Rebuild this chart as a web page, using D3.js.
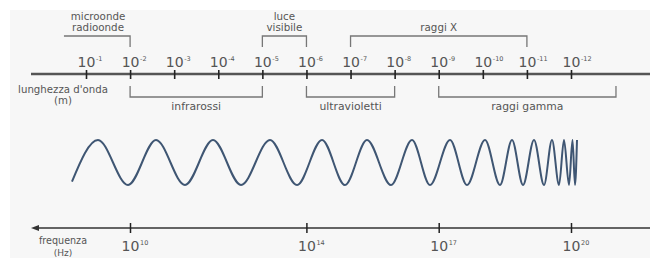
<!DOCTYPE html>
<html><head><meta charset="utf-8">
<script src="https://cdn.jsdelivr.net/npm/d3@7"></script>
<style>
html,body{margin:0;padding:0;background:#fff;}
svg{display:block;}
text{font-family:"DejaVu Sans",sans-serif;fill:#555;}
</style></head>
<body>
<svg id="chart" width="650" height="258"></svg>
<script>
// ---- data ----
// wavelength axis: exponent n of 10^-n
const wavelengthExps = [1,2,3,4,5,6,7,8,9,10,11,12];
const wavelengthTickLabels = ["-1","-2","-3","-4","-5","-6","-7","-8","-9","-10","-11","-12"];
// frequency axis: exponent n of 10^n
const frequencyExps = [10,14,17,20];
const frequencyTickLabels = ["10","14","17","20"];
// bands (in wavelength exponent units)
const bandNames = [["microonde","radioonde"],["luce","visibile"],["raggi X"],["infrarossi"],["ultravioletti"],["raggi gamma"]];
const bandFrom  = [0.5, 5, 7, 2, 6, 9];
const bandTo    = [2, 6, 11, 5, 8, 13.02];
const bandSide  = ["above","above","above","below","below","below"];
// wave extrema (position in wavelength exponent units, normalized amplitude)
const wavePos = [0.682,1.272,1.953,2.588,3.245,3.880,4.516,5.173,5.786,6.353,6.874,7.373,7.918,8.394,8.802,9.256,9.641,10.050,10.390,10.662,10.912,11.161,11.388,11.569,11.728,11.841,11.955,12.034,12.091,12.136];
const waveAmp = [-0.85,1,-1,1,-1,1,-1,1,-1,1,-1,1,-1,1,-1,1,-1,1,-1,1,-1,1,-1,1,-1,1,-1,1,-1,1];

// ---- layout ----
const W = 650, H = 258;
const svg = d3.select("#chart");
svg.append("rect").attr("x",10).attr("y",10).attr("width",W-10).attr("height",H-10).attr("fill","#f7f7f7");

const xL = d3.scaleLinear().domain([1,12]).range([86,571]);
const xF = d3.scaleLinear().domain([10,20]).range([130,571]);
const yW = d3.scaleLinear().domain([-1,1]).range([185,140]);

const axisLY = 74, axisFY = 228;

// wavelength axis
svg.append("line").attr("x1",31).attr("x2",W).attr("y1",axisLY).attr("y2",axisLY)
  .attr("stroke","#555").attr("stroke-width",2.4);
const gL = svg.append("g").attr("transform",`translate(0,${axisLY})`)
  .call(d3.axisBottom(xL).tickValues(wavelengthExps).tickSize(0).tickFormat(() => "10"));
gL.select(".domain").remove();
gL.attr("font-size",null).attr("font-family",null);
gL.selectAll(".tick line").attr("y1",-4).attr("y2",5).attr("stroke","#222").attr("stroke-width",1.6);
gL.selectAll(".tick text").each(function(d,i){
  const t = d3.select(this);
  t.attr("y",-7).attr("dy",null).attr("fill","#505050").attr("text-anchor","middle")
   .style("font-size","14px").style("font-family","DejaVu Sans");
  d3.select(this.parentNode).append("text")
    .attr("x",9.5).attr("y",-13).attr("fill","#505050").attr("text-anchor","start")
    .style("font-size","6.5px").style("font-family","DejaVu Sans").text(wavelengthTickLabels[i]);
});

// axis titles
svg.append("text").attr("x",63).attr("y",93).attr("text-anchor","middle").attr("font-size",10.2).text("lunghezza d'onda");
svg.append("text").attr("x",63).attr("y",104).attr("text-anchor","middle").attr("font-size",10.2).text("(m)");

// bands
bandNames.forEach((lines,i) => {
  const x0 = xL(bandFrom[i]), x1 = xL(bandTo[i]);
  const above = bandSide[i] === "above";
  let path;
  if (above) {
    const yTop = 36, yBot = 47;
    if (i === 0) path = `M${x0},${yTop}H${x1}V${yBot}`;
    else path = `M${x0},${yBot}V${yTop}H${x1}V${yBot}`;
  } else {
    const yTop = 86, yBot = 97;
    path = `M${x0},${yTop}V${yBot}H${x1}V${yTop}`;
  }
  svg.append("path").attr("d",path).attr("fill","none").attr("stroke","#777").attr("stroke-width",1.3);
  const cx = (x0+x1)/2 + (i===0 ? 1 : 0);
  if (above) {
    const base = 31;
    lines.forEach((s,k) => {
      svg.append("text").attr("x",cx).attr("y",base - (lines.length-1-k)*11.5)
        .attr("text-anchor","middle").attr("font-size",10.3).text(s);
    });
  } else {
    svg.append("text").attr("x",cx).attr("y",110).attr("text-anchor","middle").attr("font-size",10.8).text(lines[0]);
  }
});

// wave
const line = d3.line().x((d,i) => xL(wavePos[i])).y((d,i) => yW(waveAmp[i])).curve(d3.curveMonotoneX);
svg.append("path").datum(wavePos).attr("d",line).attr("fill","none")
  .attr("stroke","#3f5673").attr("stroke-width",2).attr("stroke-linejoin","round");

// frequency axis
svg.append("line").attr("x1",36).attr("x2",W).attr("y1",axisFY).attr("y2",axisFY)
  .attr("stroke","#333").attr("stroke-width",1.5);
svg.append("path").attr("d",`M31,${axisFY}L39,${axisFY-3}L39,${axisFY+3}Z`).attr("fill","#333");
const gF = svg.append("g").attr("transform",`translate(0,${axisFY})`)
  .call(d3.axisBottom(xF).tickValues(frequencyExps).tickSize(0).tickFormat(() => "10"));
gF.select(".domain").remove();
gF.attr("font-size",null).attr("font-family",null);
gF.selectAll(".tick line").attr("y1",-5).attr("y2",5).attr("stroke","#222").attr("stroke-width",1.5);
gF.selectAll(".tick text").each(function(d,i){
  d3.select(this).attr("y",23).attr("dy",null).attr("fill","#505050").attr("text-anchor","middle")
   .style("font-size","14px").style("font-family","DejaVu Sans");
  d3.select(this.parentNode).append("text")
    .attr("x",9.5).attr("y",17).attr("fill","#505050").attr("text-anchor","start")
    .style("font-size","6.5px").style("font-family","DejaVu Sans").text(frequencyTickLabels[i]);
});
svg.append("text").attr("x",63).attr("y",244).attr("text-anchor","middle").attr("font-size",9.6).text("frequenza");
svg.append("text").attr("x",63).attr("y",255.5).attr("text-anchor","middle").attr("font-size",9).text("(Hz)");
</script>
</body></html>
